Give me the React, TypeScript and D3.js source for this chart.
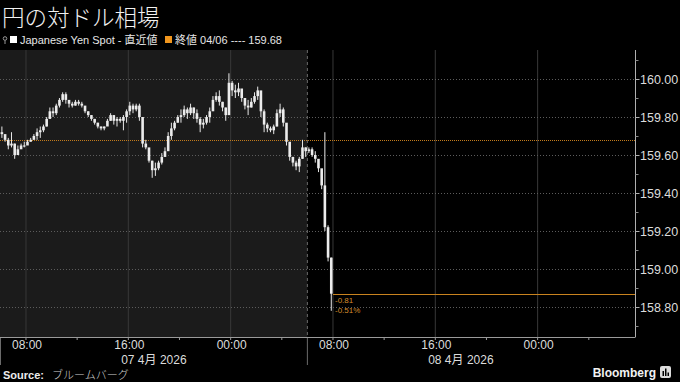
import React from 'react';
import * as d3 from 'd3';

const WIDTH = 680;
const HEIGHT = 382;

const titleText = '円の対ドル相場';
const seriesLabel = 'Japanese Yen Spot - 直近値';
const refLabel = '終値 04/06 ---- 159.68';
const sourceLabel = 'ブルームバーグ';
const brandLabel = 'Bloomberg';

// 15-minute bars starting 06:00, 7 Apr 2026
const barStart = new Date(2026, 3, 7, 6, 0);
const barMinutes = 15;
const firstOpen = 159.72;
const closes = [
  159.71, 159.68, 159.65, 159.66, 159.60, 159.63, 159.65, 159.65, 159.67, 159.68,
  159.70, 159.72, 159.73, 159.75, 159.79, 159.83, 159.82, 159.86, 159.89, 159.92,
  159.89, 159.87, 159.86, 159.88, 159.87, 159.86, 159.83, 159.81, 159.79, 159.77,
  159.75, 159.74, 159.75, 159.78, 159.81, 159.78, 159.79, 159.78, 159.80, 159.83,
  159.86, 159.84, 159.86, 159.80, 159.66, 159.64, 159.57, 159.52, 159.53, 159.56,
  159.59, 159.62, 159.70, 159.74, 159.77, 159.80, 159.81, 159.84, 159.82, 159.85,
  159.82, 159.79, 159.76, 159.77, 159.80, 159.83, 159.89, 159.91, 159.88, 159.85,
  159.81, 159.98, 159.94, 159.93, 159.95, 159.90, 159.86, 159.85, 159.88, 159.91,
  159.94, 159.83, 159.76, 159.74, 159.73, 159.75, 159.82, 159.84, 159.77, 159.67,
  159.59, 159.56, 159.54, 159.58, 159.64, 159.62, 159.63, 159.60, 159.58, 159.53,
  159.44, 159.22, 159.06, 158.87,
];
const highs = [
  159.75, 159.69, 159.69, 159.72, 159.66, 159.65, 159.66, 159.67, 159.68, 159.69,
  159.71, 159.74, 159.75, 159.76, 159.80, 159.85, 159.85, 159.87, 159.90, 159.93,
  159.93, 159.88, 159.88, 159.89, 159.89, 159.88, 159.85, 159.83, 159.81, 159.79,
  159.77, 159.75, 159.75, 159.79, 159.82, 159.81, 159.80, 159.80, 159.81, 159.84,
  159.88, 159.87, 159.87, 159.87, 159.78, 159.68, 159.63, 159.57, 159.56, 159.57,
  159.61, 159.64, 159.72, 159.77, 159.78, 159.81, 159.84, 159.86, 159.85, 159.87,
  159.85, 159.84, 159.80, 159.79, 159.81, 159.85, 159.91, 159.93, 159.94, 159.88,
  159.85, 160.03, 159.99, 159.97, 159.98, 159.93, 159.90, 159.89, 159.90, 159.93,
  159.96, 159.91, 159.84, 159.77, 159.75, 159.76, 159.84, 159.87, 159.85, 159.75,
  159.63, 159.59, 159.57, 159.59, 159.68, 159.64, 159.64, 159.64, 159.62, 159.57,
  159.52, 159.72, 159.23, 159.06,
];
const lows = [
  159.69, 159.67, 159.63, 159.64, 159.58, 159.62, 159.64, 159.64, 159.66, 159.67,
  159.68, 159.68, 159.69, 159.72, 159.75, 159.79, 159.80, 159.81, 159.85, 159.88,
  159.87, 159.85, 159.85, 159.86, 159.86, 159.85, 159.82, 159.80, 159.78, 159.76,
  159.74, 159.73, 159.73, 159.76, 159.78, 159.76, 159.75, 159.77, 159.73, 159.77,
  159.81, 159.82, 159.83, 159.78, 159.64, 159.63, 159.56, 159.48, 159.49, 159.52,
  159.55, 159.59, 159.63, 159.68, 159.73, 159.77, 159.77, 159.80, 159.79, 159.81,
  159.79, 159.77, 159.72, 159.74, 159.76, 159.77, 159.84, 159.88, 159.86, 159.83,
  159.78, 159.81, 159.91, 159.90, 159.91, 159.88, 159.84, 159.81, 159.85, 159.87,
  159.89, 159.80, 159.72, 159.72, 159.72, 159.71, 159.75, 159.80, 159.75, 159.65,
  159.57, 159.54, 159.52, 159.51, 159.58, 159.59, 159.61, 159.59, 159.56, 159.51,
  159.42, 159.20, 159.04, 158.78,
];

const previousClose = 159.68;
const changeLabel = '-0.81';
const changePctLabel = '-0.51%';

const yTickValues = [158.8, 159.0, 159.2, 159.4, 159.6, 159.8, 160.0];
const yMinorTickValues = [158.7, 158.9, 159.1, 159.3, 159.5, 159.7, 159.9, 160.1];

const xTickTimes = [
  new Date(2026, 3, 7, 8), new Date(2026, 3, 7, 16), new Date(2026, 3, 8, 0),
  new Date(2026, 3, 8, 8), new Date(2026, 3, 8, 16), new Date(2026, 3, 9, 0),
];
const xMinorTimes = [
  new Date(2026, 3, 7, 12), new Date(2026, 3, 7, 20), new Date(2026, 3, 8, 4),
  new Date(2026, 3, 8, 12), new Date(2026, 3, 8, 20), new Date(2026, 3, 9, 4),
];
const sessionStarts = [new Date(2026, 3, 7, 6), new Date(2026, 3, 8, 6), new Date(2026, 3, 9, 6)];
const dateLabels = ['07 4月 2026', '08 4月 2026'];

const xDomain = [new Date(2026, 3, 7, 6, 0), new Date(2026, 3, 9, 7, 40)];

export default function App() {
  const plotTop = 50;
  const plotBottom = 337;
  const plotLeft = 0;
  const plotRight = 635.5;

  const x = d3.scaleTime().domain(xDomain).range([0.4, 635.7]);
  const y = d3.scaleLinear().domain([158.8, 160.0]).range([307, 79]);
  const fmt = d3.timeFormat('%H:%M');
  const yFmt = d3.format('.2f');

  const bars = closes.map((c, i) => {
    const t0 = d3.timeMinute.offset(barStart, i * barMinutes);
    const tc = d3.timeMinute.offset(t0, barMinutes / 2);
    const o = i === 0 ? firstOpen : closes[i - 1];
    return { cx: x(tc), o, c, h: highs[i], l: lows[i] };
  });
  const lastEnd = x(d3.timeMinute.offset(barStart, closes.length * barMinutes));
  const lastClose = closes[closes.length - 1];
  const sepX = x(sessionStarts[1]);

  const font = '"Liberation Sans", Arial, sans-serif';
  const cjk = '"Noto Sans CJK JP", "Liberation Sans", sans-serif';
  const mixed = '"Liberation Sans", "Noto Sans CJK JP", sans-serif';

  return (
    <svg width={WIDTH} height={HEIGHT} style={{ position: 'absolute', left: 0, top: 0, background: '#000' }}>
      <rect x={0} y={0} width={WIDTH} height={HEIGHT} fill="#000" />
      {/* title */}
      <text x={2} y={26} fill="#f2f2f2" fontFamily={cjk} fontWeight={300} fontSize={22.5}>{titleText}</text>
      {/* legend */}
      <g>
        <circle cx={5} cy={38.5} r={1.8} fill="none" stroke="#999" strokeWidth={1} />
        <line x1={5} y1={40.5} x2={5} y2={44} stroke="#999" />
        <rect x={10} y={36} width={7} height={7} fill="#fff" />
        <text x={20} y={44} fill="#e6e6e6" fontFamily={mixed} fontSize={11}>{seriesLabel}</text>
        <rect x={165} y={36} width={7} height={7} fill="#f0961e" />
        <text x={175} y={44} fill="#e6e6e6" fontFamily={mixed} fontSize={11}>{refLabel}</text>
      </g>
      {/* previous session background */}
      <rect x={plotLeft} y={plotTop} width={sepX - plotLeft} height={plotBottom - plotTop} fill="#1b1b1b" />
      {/* vertical grid */}
      {xTickTimes.map((t, i) => (
        <line key={'vg' + i} x1={x(t)} x2={x(t)} y1={plotTop} y2={plotBottom} stroke="#383838" strokeWidth={1} />
      ))}
      {/* horizontal grid */}
      {yTickValues.map((v, i) => (
        <line key={'hg' + i} x1={plotLeft} x2={plotRight} y1={Math.round(y(v)) + 0.5} y2={Math.round(y(v)) + 0.5}
          stroke="#5c5c5c" strokeWidth={1} strokeDasharray="1,2" />
      ))}
      {/* session separator */}
      <line x1={sepX} x2={sepX} y1={plotTop} y2={plotBottom} stroke="#6a6a6a" strokeDasharray="3,3" />
      <line x1={sepX} x2={sepX} y1={plotBottom} y2={365} stroke="#6a6a6a" />
      <line x1={0.5} x2={0.5} y1={plotBottom} y2={365} stroke="#6a6a6a" />
      {/* previous close line */}
      <line x1={plotLeft} x2={plotRight} y1={Math.round(y(previousClose)) + 0.5} y2={Math.round(y(previousClose)) + 0.5}
        stroke="#c27b1c" strokeWidth={1} strokeDasharray="1,1" />
      {/* last price line */}
      <line x1={lastEnd} x2={plotRight} y1={Math.round(y(lastClose)) + 0.5} y2={Math.round(y(lastClose)) + 0.5}
        stroke="#c9831f" strokeWidth={1} />
      {/* candles */}
      {bars.map((b, i) => {
        const top = y(Math.max(b.o, b.c));
        const bot = y(Math.min(b.o, b.c));
        return (
          <g key={'b' + i}>
            <line x1={b.cx} x2={b.cx} y1={y(b.h)} y2={y(b.l)} stroke="#e8e8e8" strokeWidth={1} />
            <rect x={b.cx - 1.3} y={top} width={2.6} height={Math.max(1, bot - top)} fill="#ececec" />
          </g>
        );
      })}
      {/* change annotation */}
      <text x={lastEnd + 2} y={303} fill="#d48c2c" fontFamily={font} fontSize={8}>{changeLabel}</text>
      <text x={lastEnd + 2} y={312.5} fill="#d48c2c" fontFamily={font} fontSize={8}>{changePctLabel}</text>
      {/* y axis */}
      <line x1={plotRight} x2={plotRight} y1={plotTop} y2={plotBottom} stroke="#b0b0b0" />
      {yMinorTickValues.map((v, i) => (
        <line key={'ymt' + i} x1={plotRight} x2={plotRight + 3} y1={Math.round(y(v)) + 0.5} y2={Math.round(y(v)) + 0.5} stroke="#888" />
      ))}
      {yTickValues.map((v, i) => (
        <g key={'yt' + i}>
          <line x1={plotRight} x2={plotRight + 4} y1={Math.round(y(v)) + 0.5} y2={Math.round(y(v)) + 0.5} stroke="#b0b0b0" />
          <text x={640} y={y(v) + 4.5} fill="#dcdcdc" fontFamily={font} fontSize={12.5}>{yFmt(v)}</text>
        </g>
      ))}
      {/* x axis */}
      <line x1={0} x2={plotRight} y1={plotBottom + 0.5} y2={plotBottom + 0.5} stroke="#9a9a9a" />
      {xMinorTimes.map((t, i) => (
        <line key={'xmt' + i} x1={x(t)} x2={x(t)} y1={plotBottom} y2={plotBottom + 3} stroke="#9a9a9a" />
      ))}
      {xTickTimes.map((t, i) => (
        <g key={'xt' + i}>
          <line x1={x(t)} x2={x(t)} y1={plotBottom} y2={plotBottom + 3} stroke="#9a9a9a" />
          <text x={x(t) + 1} y={349} textAnchor="middle" fill="#dcdcdc" fontFamily={font} fontSize={12}>{fmt(t)}</text>
        </g>
      ))}
      {dateLabels.map((d, i) => (
        <text key={'dl' + i} x={(x(sessionStarts[i]) + x(sessionStarts[i + 1])) / 2} y={364} textAnchor="middle"
          fill="#dcdcdc" fontFamily={mixed} fontSize={12}>{d}</text>
      ))}
      {/* footer */}
      <text x={3} y={379} fill="#ececec" fontFamily={font} fontWeight="bold" fontSize={11}>Source:</text>
      <text x={52} y={379} fill="#d0d0d0" fontFamily={cjk} fontWeight={300} fontSize={11}>{sourceLabel}</text>
      <text x={656} y={377} textAnchor="end" fill="#f2f2f2" fontFamily={font} fontWeight="bold" fontSize={12}>{brandLabel}</text>
      <g>
        <rect x={660} y={366} width={11} height={12} rx={2} fill="#dcdcdc" />
        <rect x={662.5} y={371} width={1.5} height={5} fill="#000" />
        <rect x={665} y={368.5} width={1.5} height={7.5} fill="#000" />
        <rect x={667.5} y={372.5} width={1.5} height={3.5} fill="#000" />
      </g>
    </svg>
  );
}
